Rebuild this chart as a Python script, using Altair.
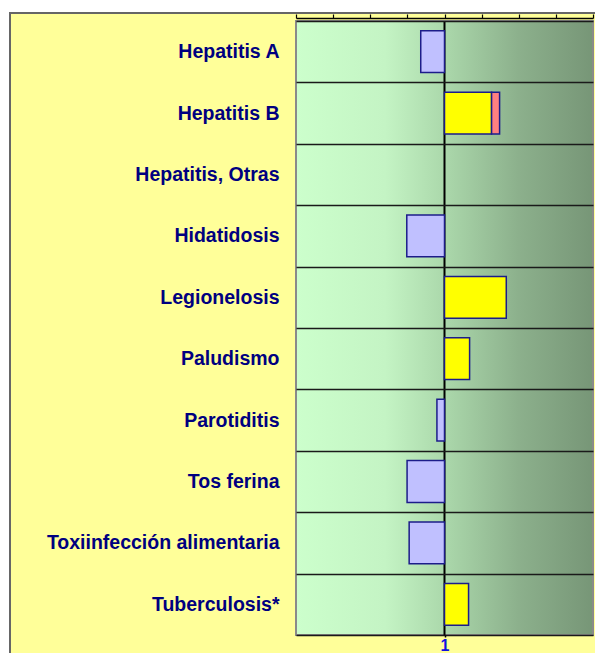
import altair as alt
import pandas as pd

# ---- data ----
diseases = [
    "Hepatitis A",
    "Hepatitis B",
    "Hepatitis, Otras",
    "Hidatidosis",
    "Legionelosis",
    "Paludismo",
    "Parotiditis",
    "Tos ferina",
    "Toxiinfección alimentaria",
    "Tuberculosis*",
]
ratio = [0.84, 1.317, None, 0.746, 1.416, 1.169, 0.949, 0.748, 0.762, 1.162]
excess_end = [None, 1.371, None, None, None, None, None, None, None, None]
x_ticks = [0, 0.25, 0.5, 0.75, 1, 1.25, 1.5, 1.75, 2]
x_labels = [1]

rows = []
for d, r, e in zip(diseases, ratio, excess_end):
    if r is None:
        continue
    if r < 1:
        rows.append(dict(disease=d, start=r, end=1, kind="below"))
    else:
        rows.append(dict(disease=d, start=1, end=r, kind="above"))
    if e is not None:
        rows.append(dict(disease=d, start=r, end=e, kind="excess"))
bars_df = pd.DataFrame(rows)

xscale = alt.Scale(domain=[0, 2], nice=False, zero=False)

gradient = alt.LinearGradient(
    gradient="linear",
    x1=0, x2=1, y1=0, y2=0,
    stops=[
        alt.GradientStop(color="#ccffcc", offset=0),
        alt.GradientStop(color="#c4f4c4", offset=0.3),
        alt.GradientStop(color="#abd8ab", offset=0.5),
        alt.GradientStop(color="#8cb08c", offset=0.75),
        alt.GradientStop(color="#779677", offset=1),
    ],
)

frame = alt.Chart(pd.DataFrame({"a": [0]})).mark_rect(
    fill="#ffff99", stroke="#666666", strokeWidth=2
).encode(
    x=alt.value(-286), x2=alt.value(330), y=alt.value(-8), y2=alt.value(700)
)

background = alt.Chart(pd.DataFrame({"lo": [0], "hi": [2]})).mark_rect(
    color=gradient, stroke="#8a8a8a", strokeWidth=2
).encode(
    x=alt.X(
        "lo:Q",
        scale=xscale,
        axis=alt.Axis(
            orient="top", values=x_ticks, labels=False, grid=False,
            tickSize=4, tickColor="black", tickWidth=1.2, zindex=1,
            domainColor="black", domainWidth=1.5, offset=3, title=None,
        ),
    ),
    x2="hi:Q",
)

bars = alt.Chart(bars_df).mark_bar(
    height={"band": 0.68}, stroke="#1c1c8a", strokeWidth=1.5
).encode(
    y=alt.Y(
        "disease:N",
        sort=diseases,
        scale=alt.Scale(domain=diseases, paddingInner=0, paddingOuter=0),
        axis=alt.Axis(
            title=None, domain=False, ticks=False, grid=True, tickBand="extent",
            gridColor="#1a1a1a", gridWidth=1.6, zindex=1,
            labelFont="Liberation Sans", labelFontSize=19.5, labelFontWeight="bold",
            labelColor="#000080", labelPadding=17, labelLimit=300,
        ),
    ),
    x=alt.X(
        "start:Q",
        scale=xscale,
        axis=alt.Axis(
            orient="bottom", values=x_labels, grid=False, domain=False,
            tickColor="black", tickSize=2, tickWidth=1.5, title=None, zindex=1,
            labelFont="Liberation Sans", labelFontSize=16, labelFontWeight="bold",
            labelColor="#1010e0", labelPadding=0,
        ),
    ),
    x2="end:Q",
    color=alt.Color(
        "kind:N",
        scale=alt.Scale(domain=["below", "above", "excess"],
                        range=["#c0c0ff", "#ffff00", "#ff8080"]),
        legend=None,
    ),
)

center = alt.Chart(pd.DataFrame({"v": [1]})).mark_rule(
    color="black", strokeWidth=2
).encode(x=alt.X("v:Q", scale=xscale, axis=None))

chart = alt.layer(frame, background, center, bars).properties(
    width=297,
    height=614,
    background="white",
    padding={"left": 288, "top": 13, "right": 2, "bottom": 18},
    autosize=alt.AutoSizeParams(type="none"),
).configure_view(stroke=None)

chart.save("out.html", embed_options={"renderer": "svg", "actions": False})
